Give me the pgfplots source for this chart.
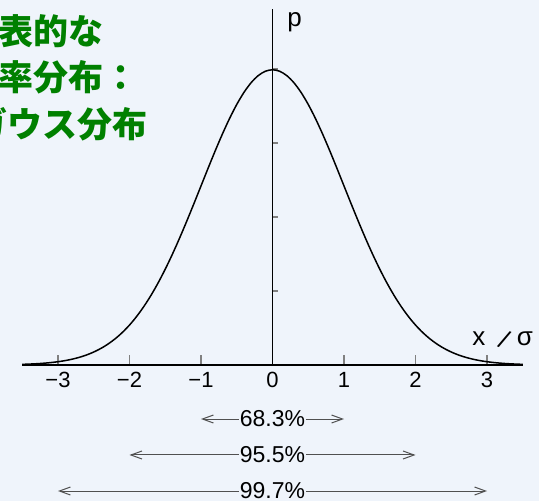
\documentclass[border=0pt]{standalone}
\usepackage{graphicx}
\usepackage{pgfplots}
\pgfplotsset{compat=1.18}
\usetikzlibrary{arrows.meta}
\usepackage{fontspec}
\setmainfont{Liberation Sans}
\newfontfamily\cjk{Noto Sans CJK JP}
\definecolor{bg}{RGB}{239,244,251}
\definecolor{titlegreen}{RGB}{0,128,0}
\definecolor{arrowgray}{RGB}{80,80,80}

% standard normal density, sampled every 0.1
\pgfplotstableread{
x p
-3.5 0.00087
-3.4 0.00123
-3.3 0.00172
-3.2 0.00238
-3.1 0.00327
-3.0 0.00443
-2.9 0.00595
-2.8 0.00792
-2.7 0.01042
-2.6 0.01358
-2.5 0.01753
-2.4 0.02239
-2.3 0.02833
-2.2 0.03547
-2.1 0.04398
-2.0 0.05399
-1.9 0.06562
-1.8 0.07895
-1.7 0.09405
-1.6 0.11092
-1.5 0.12952
-1.4 0.14973
-1.3 0.17137
-1.2 0.19419
-1.1 0.21785
-1.0 0.24197
-0.9 0.26609
-0.8 0.28969
-0.7 0.31225
-0.6 0.33322
-0.5 0.35207
-0.4 0.36827
-0.3 0.38139
-0.2 0.39104
-0.1 0.39695
0.0 0.39894
0.1 0.39695
0.2 0.39104
0.3 0.38139
0.4 0.36827
0.5 0.35207
0.6 0.33322
0.7 0.31225
0.8 0.28969
0.9 0.26609
1.0 0.24197
1.1 0.21785
1.2 0.19419
1.3 0.17137
1.4 0.14973
1.5 0.12952
1.6 0.11092
1.7 0.09405
1.8 0.07895
1.9 0.06562
2.0 0.05399
2.1 0.04398
2.2 0.03547
2.3 0.02833
2.4 0.02239
2.5 0.01753
2.6 0.01358
2.7 0.01042
2.8 0.00792
2.9 0.00595
3.0 0.00443
3.1 0.00327
3.2 0.00238
3.3 0.00172
3.4 0.00123
3.5 0.00087
}\gauss

\tikzset{
  pct/.style={fill=bg, inner xsep=0.5pt, inner ysep=1pt,
    font=\fontsize{11.5}{14}\selectfont, text=black},
  sigmaspan/.style={arrowgray, line width=0.5pt,
    {Straight Barb[length=5.5pt,width=4pt]}-{Straight Barb[length=5.5pt,width=4pt]}},
}

\begin{document}
\begin{tikzpicture}
% page frame in pixel-like units, origin of the axis at (272.5,365)
\begin{scope}[x=0.5pt,y=-0.5pt,shift={(-272.5,-365)}]
  \fill[bg] (0,0) rectangle (539,501);
  \clip (0,0) rectangle (539,501);
  \begin{scope}[every node/.style={anchor=base west, inner sep=0pt,
      font=\cjk\bfseries\fontsize{17.5}{21}\selectfont, text=titlegreen}]
    \node at (-37,44.5) {代表的な};
    \node at (-37,90.5) {確率分布：};
    \node at (-28,137.5) {ガウス分布};
  \end{scope}
\end{scope}

\begin{axis}[
  at={(0,0)}, anchor=origin,
  x=35.75pt, y=370pt,
  axis lines=middle,
  axis line style={-, line width=0.9pt},
  xmin=-3.5, xmax=3.5, ymin=0, ymax=0.481,
  clip=false,
  tick align=inside,
  hide obscured x ticks=false,
  xtick={-3,-2,-1,0,1,2,3},
  xticklabels={−3,−2,−1,0,1,2,3},
  ytick={0.1,0.2,0.3,0.4},
  yticklabels={},
  xtick style={line width=0.6pt, /pgfplots/major tick length=5pt},
  ytick style={line width=0.6pt, /pgfplots/major tick length=2.5pt},
  xticklabel style={font=\fontsize{11}{13}\selectfont, anchor=north,
    inner sep=0pt, yshift=-3.5pt},
]
  \addplot[black, line width=0.75pt, smooth] table[x=x, y=p] {\gauss};

  \addplot[sigmaspan] coordinates {(-1,-0.0730) (1,-0.0730)}
    node[pct, pos=0.5] {68.3\%};
  \addplot[sigmaspan] coordinates {(-2,-0.1216) (2,-0.1216)}
    node[pct, pos=0.5] {95.5\%};
  \addplot[sigmaspan] coordinates {(-3,-0.1703) (3,-0.1703)}
    node[pct, pos=0.5] {99.7\%};
\end{axis}

\begin{scope}[x=0.5pt,y=-0.5pt,shift={(-272.5,-365)},
    every node/.style={anchor=base west, inner sep=0pt,
      font=\fontsize{13}{15}\selectfont}]
  \node at (287,27) {p};
  \node at (472,346) {x};
  \node[anchor=center] at (504.5,340) {\rotatebox[origin=c]{-25}{/}};
  \node at (516.5,346) {σ};
\end{scope}

\pgfresetboundingbox
\path[use as bounding box, x=0.5pt, y=-0.5pt, shift={(-272.5,-365)}]
  (0,0) rectangle (539,501);
\end{tikzpicture}
\end{document}
